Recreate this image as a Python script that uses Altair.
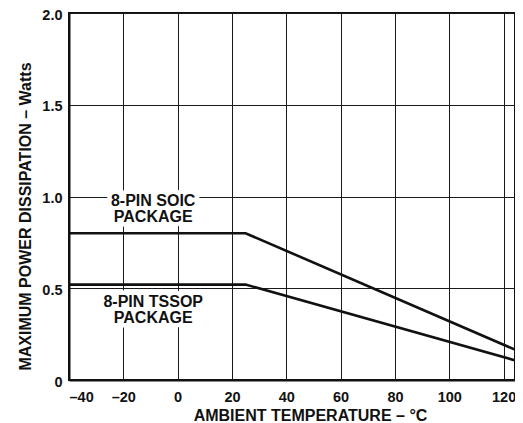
import altair as alt
import pandas as pd

# Data
temps = [-40, 25, 150]
soic_w = [0.80, 0.80, 0.0]
tssop_w = [0.52, 0.52, 0.0]

label_text = ["8-PIN SOIC", "PACKAGE", "8-PIN TSSOP", "PACKAGE"]
label_x = [-9, -9, -9, -9]
label_y = [0.948, 0.861, 0.40, 0.311]

x_ticks = [-40, -20, 0, 20, 40, 60, 80, 100, 120]
y_ticks = [0, 0.5, 1.0, 1.5, 2.0]

FONT = "Liberation Sans"

lines_df = pd.DataFrame(
    {"temp": temps * 2,
     "watts": soic_w + tssop_w,
     "pkg": ["SOIC"] * len(temps) + ["TSSOP"] * len(temps)}
)
labels_df = pd.DataFrame({"text": label_text, "temp": label_x, "watts": label_y})

x_scale = alt.Scale(domain=[-40, 124.2], nice=False, zero=False)
y_scale = alt.Scale(domain=[0, 2.0], nice=False)

label_expr = "datum.value < 0 ? '\u2013' + abs(datum.value) : datum.label"
y_label_expr = "datum.value == 0 ? '0' : format(datum.value, '.1f')"

x_axis = alt.Axis(
    values=x_ticks, title="AMBIENT TEMPERATURE \u2013 \u00b0C", grid=True,
    gridColor="#1a1a1a", gridWidth=1, gridOpacity=1,
    domainColor="#111", domainWidth=2, ticks=False, tickSize=0,
    labelFont=FONT, labelFontSize=14.5, labelFontWeight="bold", labelColor="#111",
    labelPadding=10, labelExpr=label_expr,
    titleFont=FONT, titleFontSize=16, titleFontWeight="bold", titleColor="#111",
    titleX=241, titleY=40, titleBaseline="alphabetic", titleAnchor="middle",
    titleAlign="center",
)
y_axis = alt.Axis(
    values=y_ticks, title="MAXIMUM POWER DISSIPATION \u2013 Watts", grid=True,
    gridColor="#1a1a1a", gridWidth=1, gridOpacity=1,
    domainColor="#111", domainWidth=2, ticks=False, tickSize=0,
    labelFont=FONT, labelFontSize=14.5, labelFontWeight="bold", labelColor="#111",
    labelPadding=7, labelOffset=2, labelExpr=y_label_expr,
    titleFont=FONT, titleFontSize=16, titleFontWeight="bold", titleColor="#111",
    titleAngle=270, titleX=-39, titleY=203, titleBaseline="alphabetic",
    titleAlign="center", titleAnchor="middle",
)

lines = alt.Chart(lines_df).mark_line(
    color="#111", strokeWidth=2.6, clip=True
).encode(
    x=alt.X("temp:Q", scale=x_scale, axis=x_axis),
    y=alt.Y("watts:Q", scale=y_scale, axis=y_axis),
    detail="pkg:N",
)

halo = alt.Chart(labels_df).mark_text(
    font=FONT, fontSize=16, fontWeight="bold", baseline="alphabetic",
    align="center", fill="white", stroke="white", strokeWidth=9,
    strokeJoin="round",
).encode(x=alt.X("temp:Q", scale=x_scale), y=alt.Y("watts:Q", scale=y_scale), text="text:N")

texts = alt.Chart(labels_df).mark_text(
    font=FONT, fontSize=16, fontWeight="bold", baseline="alphabetic",
    align="center", color="#111",
).encode(x=alt.X("temp:Q", scale=x_scale), y=alt.Y("watts:Q", scale=y_scale), text="text:N")

chart = alt.layer(lines, halo, texts).properties(
    width=446, height=367,
    autosize=alt.AutoSizeParams(type="none"),
    padding={"left": 61, "top": 5, "right": 0, "bottom": 43},
    background="white",
).configure_view(stroke="#111", strokeWidth=2)

chart.save("out.html", embed_options={"renderer": "svg", "actions": False})
